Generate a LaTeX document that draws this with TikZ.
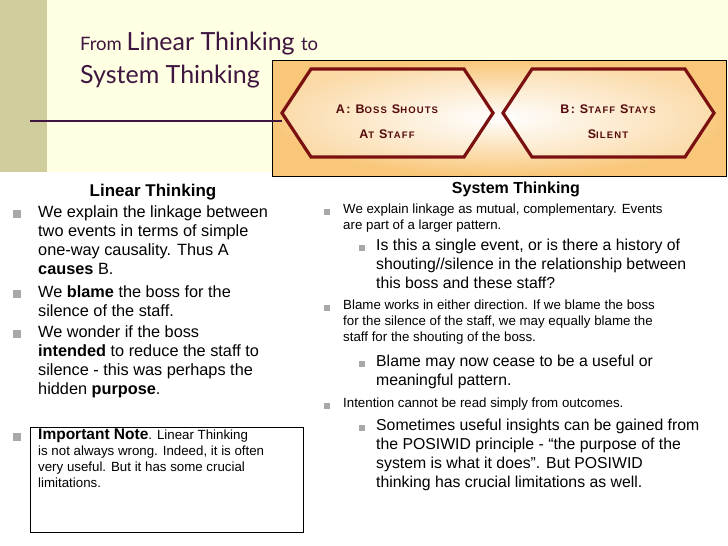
\documentclass[tikz,border=0pt]{standalone}
\usepackage{fontspec}
\setmainfont{Liberation Sans}
\newfontfamily\gill{Lato}
\newfontfamily\hexf[LetterSpace=12]{Liberation Sans}
\definecolor{cream}{HTML}{FFFFE3}
\definecolor{olive}{HTML}{CFCD9C}
\definecolor{ttl}{HTML}{3E1640}
\definecolor{hexred}{HTML}{7A1010}
\definecolor{orng}{HTML}{F9C77A}
\definecolor{bul}{HTML}{A8A8A8}
\tikzset{
 txt/.style={anchor=north west,align=left,inner sep=0pt,font=\fontsize{16.3}{19}\selectfont},
 rtxt/.style={anchor=north west,align=left,inner sep=0pt,font=\fontsize{15.8}{19}\selectfont},
 stxt/.style={anchor=north west,align=left,inner sep=0pt,font=\fontsize{13.3}{15.8}\selectfont},
 bl/.style={fill=bul,minimum size=8pt,inner sep=0pt},
 sbl/.style={fill=bul,minimum size=6.5pt,inner sep=0pt},
 hx/.style={font=\hexf\bfseries\fontsize{12.5}{25}\selectfont,align=center,text=hexred!70!black}
}
\newcommand{\sm}[1]{{\fontsize{9.5}{10}\selectfont #1}}
\begin{document}
\begin{tikzpicture}[x=1pt,y=-1pt]
\useasboundingbox (0,0) rectangle (728,546);
\fill[white] (0,0) rectangle (728,546);
\fill[cream] (0,0) rectangle (728,172);
\fill[olive] (0,0) rectangle (47,172);
\node[anchor=base west,inner sep=0pt,text=ttl,font=\gill] (t1) at (80,50) {\fontsize{18.5}{20}\selectfont From \fontsize{25}{27}\selectfont Linear Thinking \fontsize{18.5}{20}\selectfont to};
\node[anchor=base west,inner sep=0pt,text=ttl,font=\gill\fontsize{25}{27}\selectfont] (t2) at (80,83) {System Thinking};
\coordinate (l0) at (30,121);
\shade[inner color=white,outer color=orng] (272,60) rectangle (726,176);
\draw[line width=0.6pt] (272,60) rectangle (726,176);
\draw[ttl,line width=1.2pt] (l0) -- (282,121);
\draw[hexred,line width=3.2pt,fill=white,fill opacity=0.35,line join=miter] (282,113) -- (311,69) -- (464,69) -- (493,113) -- (464,157) -- (311,157) -- cycle;
\draw[hexred,line width=3.2pt,fill=white,fill opacity=0.35,line join=miter] (503,113) -- (532,69) -- (685,69) -- (714,113) -- (685,157) -- (532,157) -- cycle;
\node[hx] (a) at (387,122) {A: B\sm{OSS} S\sm{HOUTS}\\A\sm{T} S\sm{TAFF}};
\node[hx] (b) at (608,122) {B: S\sm{TAFF} S\sm{TAYS}\\S\sm{ILENT}};
% left column
\node[anchor=base,inner sep=0pt,font=\bfseries\fontsize{17}{19}\selectfont] (lh) at (153,196) {Linear Thinking};
\node[bl] (b1) at (17,214) {}; \node[txt] (p1) at (38,205) {We explain the linkage between\\two events in terms of simple\\one-way causality.  Thus A\\\textbf{causes} B.};
\node[bl] (b2) at (17,294) {}; \node[txt] (p2) at (38,285) {We \textbf{blame} the boss for the\\silence of the staff.};
\node[bl] (b3) at (17,334) {}; \node[txt] (p3) at (38,325) {We wonder if the boss\\\textbf{intended} to reduce the staff to\\silence - this was perhaps the\\hidden \textbf{purpose}.};
\draw[line width=0.6pt] (30,427) rectangle (303,532);
\node[bl] (b4) at (17,437) {}; \node[stxt] (p4) at (38,429) {{\fontsize{15.5}{16}\selectfont\textbf{Important Note}}.  Linear Thinking\\is not always wrong.  Indeed, it is often\\very useful.  But it has some crucial\\limitations.};
% right column
\node[anchor=base,inner sep=0pt,font=\bfseries\fontsize{16}{18}\selectfont] (rh) at (516,193) {System Thinking};
\node[sbl] (c1) at (327,212) {}; \node[stxt] (q1) at (343,204) {We explain linkage as mutual, complementary.  Events\\are part of a larger pattern.};
\node[sbl] (d1) at (362,248) {}; \node[rtxt] (r1) at (376,239) {Is this a single event, or is there a history of\\shouting//silence in the relationship between\\this boss and these staff?};
\node[sbl] (c2) at (327,308) {}; \node[stxt] (q2) at (343,300) {Blame works in either direction.  If we blame the boss\\for the silence of the staff, we may equally blame the\\staff for the shouting of the boss.};
\node[sbl] (d2) at (362,364) {}; \node[rtxt] (r2) at (376,355) {Blame may now cease to be a useful or\\meaningful pattern.};
\node[sbl] (c3) at (327,406) {}; \node[stxt] (q3) at (343,398) {Intention cannot be read simply from outcomes.};
\node[sbl] (d3) at (362,428) {}; \node[rtxt] (r3) at (376,419) {Sometimes useful insights can be gained from\\the POSIWID principle - ``the purpose of the\\system is what it does''.  But POSIWID\\thinking has crucial limitations as well.};
\end{tikzpicture}
\end{document}
